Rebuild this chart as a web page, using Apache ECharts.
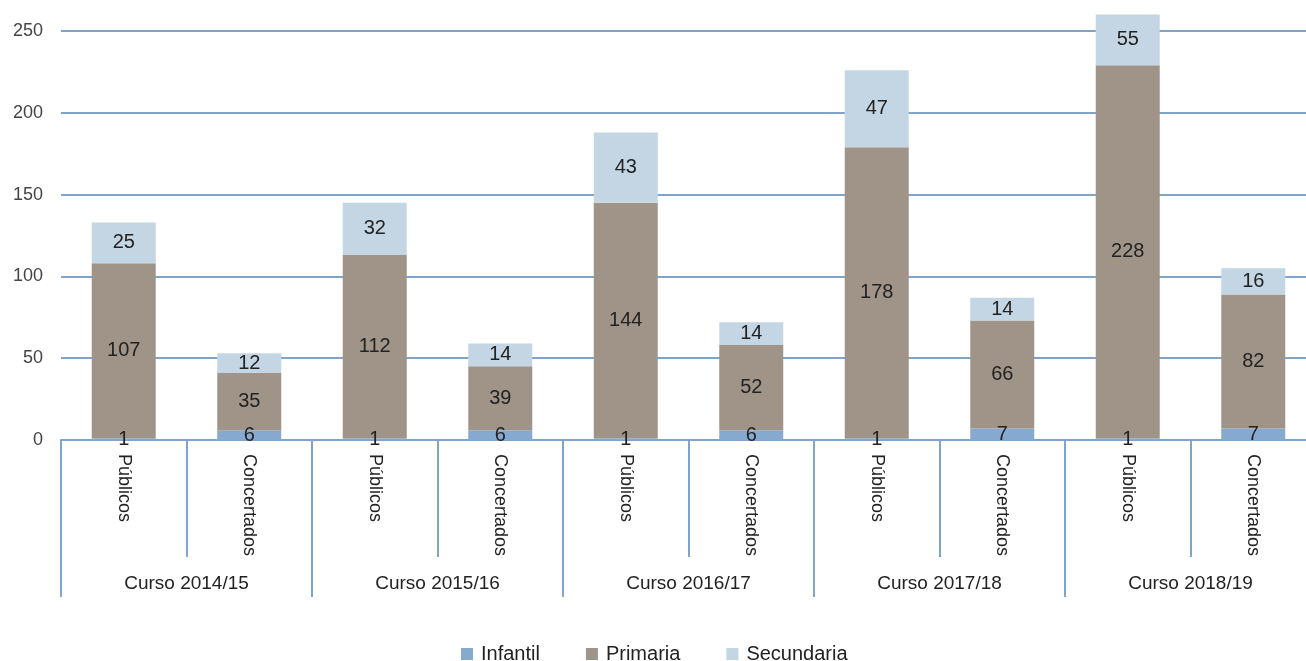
<!DOCTYPE html>
<html>
<head>
<meta charset="utf-8">
<script src="https://cdn.jsdelivr.net/npm/echarts@6/dist/echarts.min.js"></script>
<style>
html,body{margin:0;padding:0;background:#fff;overflow:hidden;width:1306px;height:661px;}
#chart{width:1316px;height:661px;}
</style>
</head>
<body>
<div id="chart"></div>
<script>
const categories = ['Públicos','Concertados','Públicos','Concertados','Públicos','Concertados','Públicos','Concertados','Públicos','Concertados'];
const groups = ['Curso 2014/15','Curso 2015/16','Curso 2016/17','Curso 2017/18','Curso 2018/19'];
const infantil = [1, 6, 1, 6, 1, 6, 1, 7, 1, 7];
const primaria = [107, 35, 112, 39, 144, 52, 178, 66, 228, 82];
const secundaria = [25, 12, 32, 14, 43, 14, 47, 14, 55, 16];
const yTicks = [0, 50, 100, 150, 200, 250];

const FONT = "'Liberation Sans', Arial, sans-serif";
const AXIS_BLUE = '#7fa3cb';
const chart = echarts.init(document.getElementById('chart'), null, {renderer: 'canvas'});

function mkSeries(name, data, color) {
  return {
    name: name, type: 'bar', stack: 'total', data: data, barWidth: 64,
    xAxisIndex: 0,
    itemStyle: {color: color},
    label: {show: true, position: 'inside', color: '#222', fontFamily: FONT, fontSize: 20},
    emphasis: {disabled: true},
    clip: true
  };
}

const splitColors = yTicks.map(() => AXIS_BLUE).concat(['rgba(0,0,0,0)']);

chart.setOption({
  animation: false,
  textStyle: {fontFamily: FONT},
  grid: {left: 61, top: 14.6, right: 0, height: 425.4, containLabel: false},
  legend: {
    data: ['Infantil', 'Primaria', 'Secundaria'],
    left: 456, top: 639,
    icon: 'rect', itemWidth: 12, itemHeight: 12, itemGap: 46,
    textStyle: {fontFamily: FONT, fontSize: 20, color: '#222', padding: [0, 0, 0, 3]}
  },
  xAxis: [
    {
      type: 'category', data: categories, position: 'bottom',
      axisLine: {show: true, lineStyle: {color: AXIS_BLUE, width: 2}},
      axisTick: {show: true, length: 117, lineStyle: {color: AXIS_BLUE, width: 2}},
      axisLabel: {rotate: -90, margin: 14, fontFamily: FONT, fontSize: 18, color: '#222', interval: 0},
      splitLine: {show: false}
    },
    {
      type: 'category', data: groups, position: 'bottom',
      axisLine: {show: false},
      axisTick: {show: true, length: 157, lineStyle: {color: AXIS_BLUE, width: 2}},
      axisLabel: {margin: 134, fontFamily: FONT, fontSize: 19, color: '#222', interval: 0},
      splitLine: {show: false}
    }
  ],
  yAxis: {
    type: 'value', min: 0, max: 260, interval: 50,
    axisLine: {show: false}, axisTick: {show: false},
    axisLabel: {
      margin: 18, fontFamily: FONT, fontSize: 18, color: '#444',
      formatter: v => (yTicks.indexOf(v) >= 0 ? String(v) : '')
    },
    splitLine: {show: true, lineStyle: {color: splitColors, width: 2}}
  },
  series: [
    mkSeries('Infantil', infantil, '#86aacf'),
    mkSeries('Primaria', primaria, '#a09488'),
    mkSeries('Secundaria', secundaria, '#c4d6e4')
  ]
});
</script>
</body>
</html>
